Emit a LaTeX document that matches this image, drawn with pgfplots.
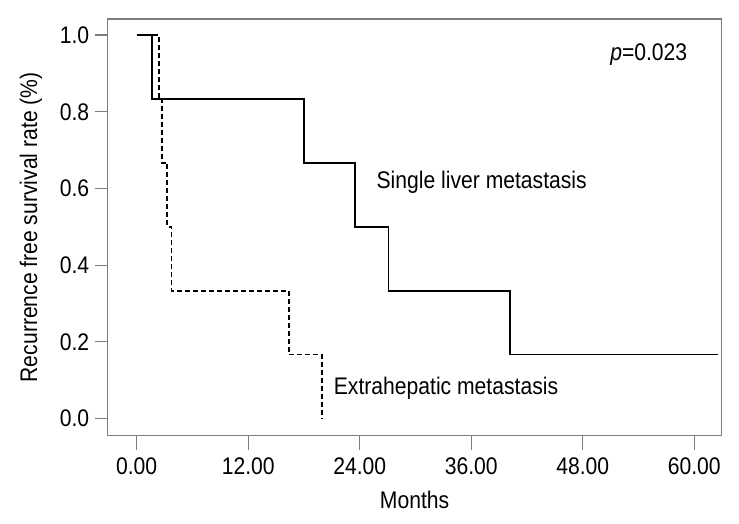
\documentclass[border=0pt]{standalone}
\usepackage{fontspec}
\setmainfont{Liberation Sans}[FakeStretch=0.88]
\usepackage{pgfplots}
\pgfplotsset{compat=1.18}
\definecolor{axgray}{RGB}{125,125,125}
\newcommand{\bigf}{\fontsize{24bp}{28bp}\selectfont}
\begin{document}
\begin{tikzpicture}
\begin{axis}[
  at={(0,0)}, anchor=south west,
  scale only axis,
  width=614.2bp, height=416.7bp,
  xmin=-3.14, xmax=62.95,
  ymin=-0.045, ymax=1.042,
  axis line style={axgray, line width=1.2bp},
  tick style={axgray, line width=1.2bp},
  tick align=outside,
  xtick pos=bottom, ytick pos=left,
  xtick={0,12,24,36,48,60},
  ytick={0,0.2,0.4,0.6,0.8,1.0},
  xtick style={/pgfplots/major tick length=14bp},
  ytick style={/pgfplots/major tick length=12.5bp},
  /pgf/number format/assume math mode=true,
  xticklabel style={font=\bigf, yshift=-14bp, /pgf/number format/.cd, fixed, fixed zerofill, precision=2},
  yticklabel style={font=\bigf, xshift=-10.5bp, /pgf/number format/.cd, fixed, fixed zerofill, precision=1},
  xlabel={Months},
  ylabel={Recurrence free survival rate (\%)},
  xlabel style={font=\bigf, at={(axis description cs:0.5,-0.1543)}, anchor=center},
  ylabel style={font=\bigf, at={(axis description cs:-0.1246,0.5)}, anchor=center},
  clip=false,
]
\addplot[const plot mark left, black, line width=1.8bp] coordinates {
  (0,1) (1.65,0.8333) (18.0,0.6667) (23.5,0.5) (27.1,0.3333) (40.2,0.1667) (62.6,0.1667)
};
\addplot[const plot mark left, black, line width=1.8bp, dash pattern=on 5bp off 3bp] coordinates {
  (0,1) (2.4,0.8333) (2.75,0.6667) (3.3,0.5) (3.75,0.3333) (16.4,0.1667) (19.9,0)
};
\node[font=\bigf, anchor=center] at (axis cs:55.1,0.948) {\textit{p}=0.023};
\node[font=\bigf, anchor=west, inner sep=0pt] at (axis cs:25.8,0.617) {Single liver metastasis};
\node[font=\bigf, anchor=west, inner sep=0pt] at (axis cs:21.2,0.079) {Extrahepatic metastasis};
\end{axis}
\pgfresetboundingbox
\useasboundingbox (-107.5bp,-88.3bp) rectangle (631.5bp,435.7bp);
\end{tikzpicture}
\end{document}
